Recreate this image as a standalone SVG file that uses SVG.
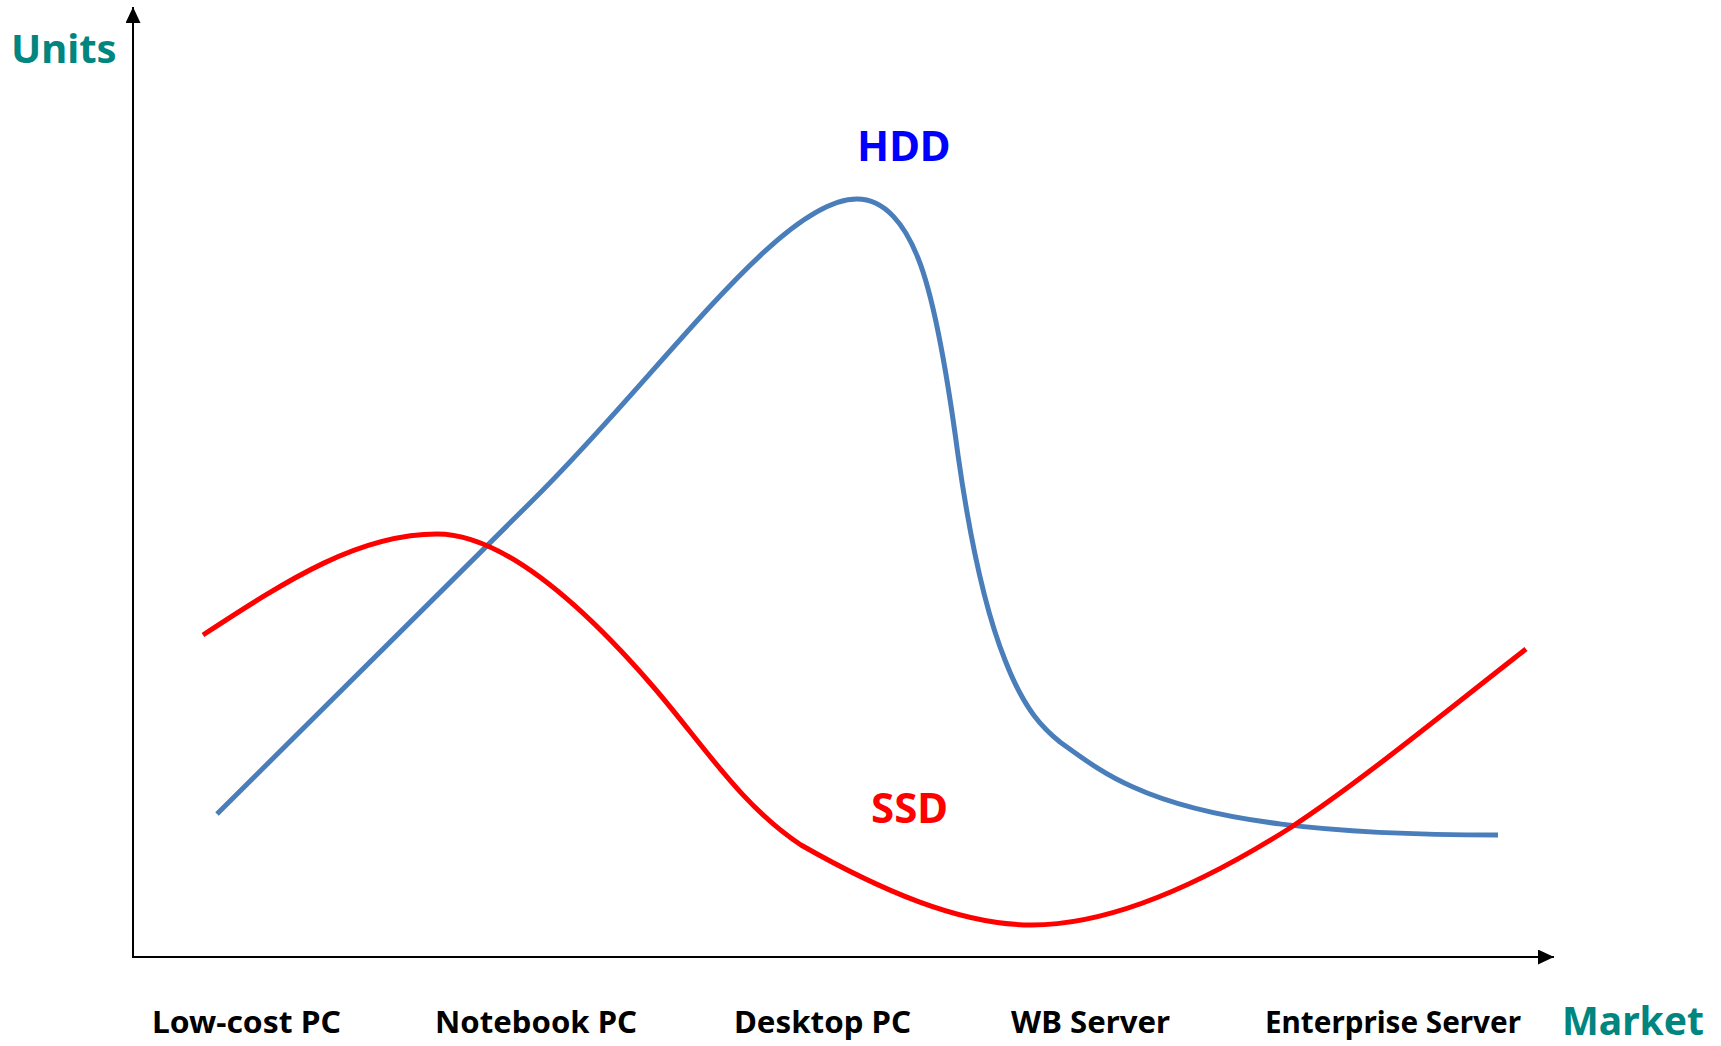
<svg xmlns="http://www.w3.org/2000/svg" width="1721" height="1046" viewBox="0 0 1721 1046">
  <style>
    .axis { stroke: #000000; stroke-width: 2; fill: none; }
    .title { font-family: "Noto Sans", "Liberation Sans", sans-serif; font-weight: bold; font-size: 40px; fill: #00857F; }
    .cat { font-family: "Noto Sans", "Liberation Sans", sans-serif; font-weight: bold; font-size: 31px; fill: #000000; }
    .series { font-family: "Noto Sans", "Liberation Sans", sans-serif; font-weight: bold; font-size: 42px; }
    .curve { fill: none; stroke-width: 5; stroke-linejoin: round; }
  </style>
  <defs>
    <marker id="arrow" viewBox="0 0 16 15" refX="16" refY="7.5" markerWidth="16" markerHeight="15" markerUnits="userSpaceOnUse" orient="auto">
      <path d="M0,0 L16,7.5 L0,15 Z" fill="#000000"/>
    </marker>
  </defs>
  <rect width="1721" height="1046" fill="#FFFFFF"/>

  <g id="connectors">
    <line id="y-axis" class="axis" x1="133" y1="958" x2="133" y2="7" marker-end="url(#arrow)"/>
    <line id="x-axis" class="axis" x1="132" y1="957" x2="1554" y2="957" marker-end="url(#arrow)"/>
    <path id="hdd-curve" class="curve" stroke="#4A7EBB" d="M217,814 L532,501 C660,375 780,199 857,199 C885,199 905,225 918,258 C935,300 948,380 958,455 C970,540 985,610 1005,660 C1025,712 1045,730 1060,742 C1085,760 1105,775 1133,787 C1210,822 1330,835 1498,835"/>
    <path id="ssd-curve" class="curve" stroke="#FF0000" d="M203,635 C290,578 360,534 437,534 C490,534 560,580 650,683 C700,740 740,805 801,845 C880,890 960,925 1032,925 C1110,925 1200,885 1290,828 C1360,782 1440,716 1526,649"/>
  </g>

  <g id="axis-units"><text class="title" x="11" y="63">Units</text></g>
  <g id="axis-market"><text class="title" x="1562" y="1035" textLength="142" lengthAdjust="spacingAndGlyphs">Market</text></g>

  <g id="label-hdd"><text class="series" x="857" y="161" fill="#0000FF">HDD</text></g>
  <g id="label-ssd"><text class="series" x="871" y="823" fill="#FF0000">SSD</text></g>

  <g id="cat-lowcost"><text class="cat" x="152" y="1033" textLength="189" lengthAdjust="spacingAndGlyphs">Low-cost PC</text></g>
  <g id="cat-notebook"><text class="cat" x="435" y="1033" textLength="202" lengthAdjust="spacingAndGlyphs">Notebook PC</text></g>
  <g id="cat-desktop"><text class="cat" x="734" y="1033" textLength="177" lengthAdjust="spacingAndGlyphs">Desktop PC</text></g>
  <g id="cat-wbserver"><text class="cat" x="1011" y="1033" textLength="159" lengthAdjust="spacingAndGlyphs">WB Server</text></g>
  <g id="cat-enterprise"><text class="cat" x="1265" y="1033" textLength="256" lengthAdjust="spacingAndGlyphs">Enterprise Server</text></g>
</svg>
